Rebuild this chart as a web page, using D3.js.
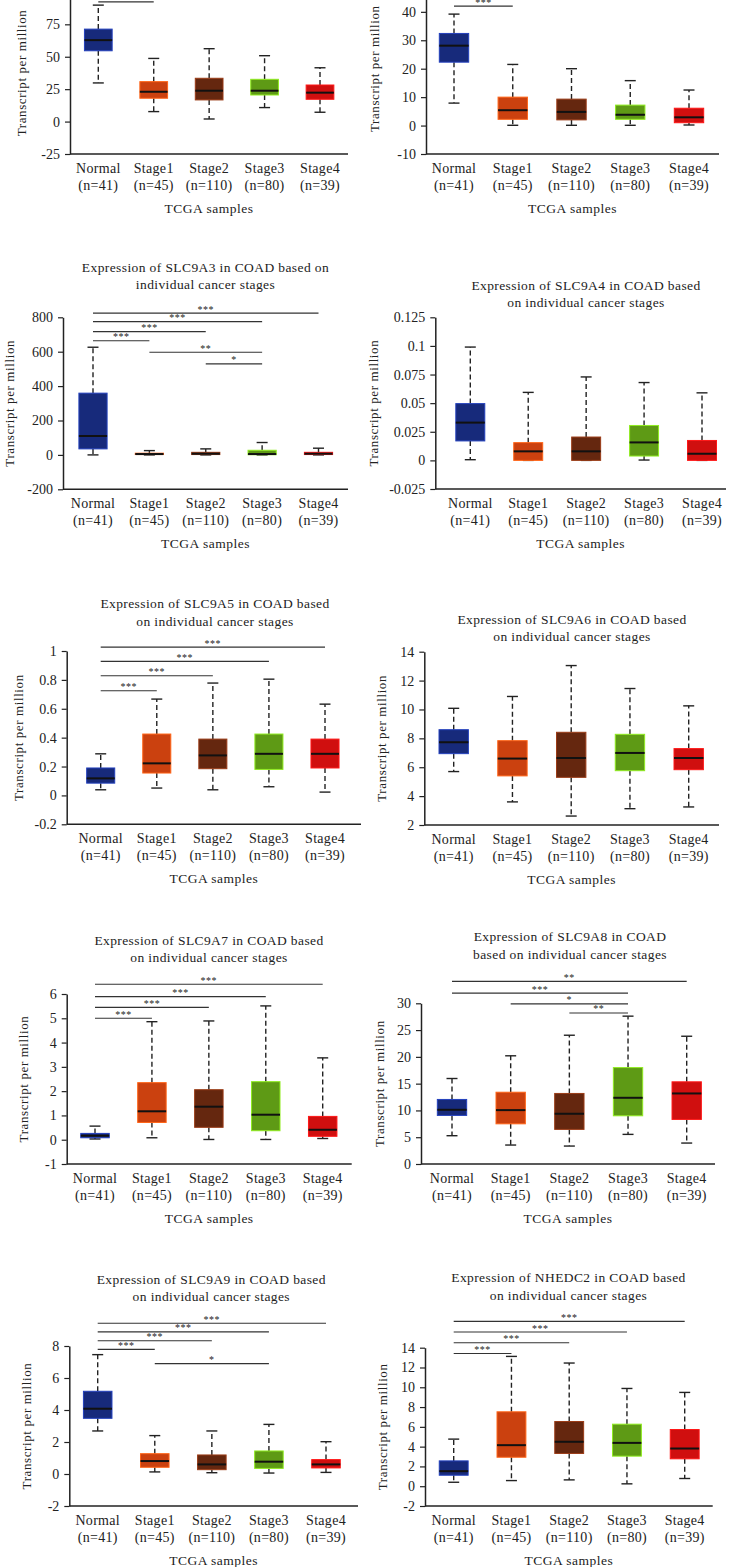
<!DOCTYPE html>
<html>
<head>
<meta charset="utf-8">
<script src="https://cdn.jsdelivr.net/npm/d3@7"></script>
<style>
  body { margin: 0; background: #fff; }
  svg text { font-family: "Liberation Serif", "Times New Roman", serif; fill: #222; }
</style>
</head>
<body>
<svg id="chart" width="731" height="1567"></svg>
<script>
// groups on the x axis
const categories = ["Normal", "Stage1", "Stage2", "Stage3", "Stage4"];
const sampleSizes = ["(n=41)", "(n=45)", "(n=110)", "(n=80)", "(n=39)"];
const groupColors = ["#172a7b", "#cb410f", "#65270f", "#5e9a15", "#d00f0f"];

// panel titles (two lines each); the first two panels have theirs cropped away
const titleLines = [
    [],
    [],
    ["Expression of SLC9A3 in COAD based on", "individual cancer stages"],
    ["Expression of SLC9A4 in COAD based", "on individual cancer stages"],
    ["Expression of SLC9A5 in COAD based", "on individual cancer stages"],
    ["Expression of SLC9A6 in COAD based", "on individual cancer stages"],
    ["Expression of SLC9A7 in COAD based", "on individual cancer stages"],
    ["Expression of SLC9A8 in COAD", "based on individual cancer stages"],
    ["Expression of SLC9A9 in COAD based", "on individual cancer stages"],
    ["Expression of NHEDC2 in COAD based", "on individual cancer stages"]
];

// box stats per group: [min, q1, median, q3, max]
const slc9a1Box = [[29.8, 54.6, 62.8, 71.3, 89.8], [7.7, 18, 23, 30.8, 48.7], [2, 16.7, 23.8, 33.4, 56.2], [10.8, 20.5, 23.8, 32.6, 50.8], [7.2, 17.2, 22.3, 28.2, 41.5]];
const slc9a2Box = [[7.9, 22.3, 28.1, 32.4, 39.2], [0.1, 2.2, 5.4, 10, 21.5], [0.1, 2, 4.8, 9.3, 20], [0.1, 2.2, 3.8, 7.2, 15.8], [0.2, 1, 2.9, 6.1, 12.5]];
const slc9a3Box = [[0, 35, 110, 359, 626], [0, 2, 5, 10, 25], [0, 2, 7, 15, 35], [0, 1, 5, 27, 72], [0, 2, 7, 15, 39]];
const slc9a4Box = [[0.0006, 0.017, 0.033, 0.0496, 0.099], [0, 0, 0.0079, 0.0155, 0.0594], [0, 0, 0.0079, 0.0204, 0.0729], [0.0003, 0.0038, 0.0157, 0.0305, 0.068], [0, 0, 0.0058, 0.0174, 0.059]];
const slc9a5Box = [[0.039, 0.085, 0.118, 0.19, 0.288], [0.051, 0.155, 0.222, 0.425, 0.667], [0.039, 0.185, 0.277, 0.39, 0.778], [0.06, 0.18, 0.288, 0.425, 0.805], [0.023, 0.19, 0.288, 0.39, 0.632]];
const slc9a6Box = [[5.7, 6.94, 7.73, 8.6, 10.08], [3.6, 5.4, 6.6, 7.84, 10.9], [2.62, 5.3, 6.64, 8.42, 13.04], [3.13, 5.76, 6.99, 8.28, 11.45], [3.25, 5.83, 6.64, 7.29, 10.25]];
const slc9a7Box = [[0.03, 0.08, 0.165, 0.26, 0.56], [0.08, 0.71, 1.17, 2.35, 4.86], [0.01, 0.51, 1.36, 2.06, 4.89], [0.01, 0.37, 1.03, 2.39, 5.51], [0.05, 0.14, 0.41, 0.96, 3.37]];
const slc9a8Box = [[5.28, 9.07, 10.12, 12.05, 15.96], [3.54, 7.5, 10.06, 13.4, 20.2], [3.35, 6.46, 9.38, 13.17, 24.04], [5.53, 9.0, 12.36, 18.0, 27.6], [3.91, 8.32, 13.17, 15.34, 23.85]];
const slc9a9Box = [[2.69, 3.48, 4.08, 5.17, 7.46], [0.13, 0.42, 0.81, 1.27, 2.4], [0.08, 0.27, 0.6, 1.19, 2.69], [0.06, 0.35, 0.77, 1.44, 3.1], [0.1, 0.38, 0.6, 0.9, 2.02]];
const nhedc2Box = [[0.4, 1.11, 1.52, 2.56, 4.76], [0.57, 2.93, 4.15, 7.52, 13.12], [0.64, 3.31, 4.49, 6.54, 12.45], [0.24, 3.04, 4.38, 6.27, 9.88], [0.78, 2.77, 3.81, 5.73, 9.48]];

// y axis extents and tick values
const slc9a1Domain = [-25, 100], slc9a1Ticks = [-25, 0, 25, 50, 75];
const slc9a2Domain = [-10, 50], slc9a2Ticks = [-10, 0, 10, 20, 30, 40];
const slc9a3Domain = [-200, 800], slc9a3Ticks = [-200, 0, 200, 400, 600, 800];
const slc9a4Domain = [-0.025, 0.125], slc9a4Ticks = [-0.025, 0, 0.025, 0.05, 0.075, 0.1, 0.125];
const slc9a5Domain = [-0.2, 1], slc9a5Ticks = [-0.2, 0, 0.2, 0.4, 0.6, 0.8, 1];
const slc9a6Domain = [2, 14], slc9a6Ticks = [2, 4, 6, 8, 10, 12, 14];
const slc9a7Domain = [-1, 6], slc9a7Ticks = [-1, 0, 1, 2, 3, 4, 5, 6];
const slc9a8Domain = [0, 30], slc9a8Ticks = [0, 5, 10, 15, 20, 25, 30];
const slc9a9Domain = [-2, 8], slc9a9Ticks = [-2, 0, 2, 4, 6, 8];
const nhedc2Domain = [-2, 14], nhedc2Ticks = [-2, 0, 2, 4, 6, 8, 10, 12, 14];

// significance brackets: [from, to, level, stars]
const slc9a1Sig = [["Normal", "Stage1", 92.3, "***"]];
const slc9a2Sig = [["Normal", "Stage1", 42, "***"]];
const slc9a3Sig = [["Normal", "Stage4", 824, "***"], ["Normal", "Stage3", 775, "***"], ["Normal", "Stage2", 717, "***"], ["Normal", "Stage1", 664, "***"], ["Stage1", "Stage3", 597, "**"], ["Stage2", "Stage3", 529, "*"]];
const slc9a4Sig = [];
const slc9a5Sig = [["Normal", "Stage4", 1.027, "***"], ["Normal", "Stage3", 0.928, "***"], ["Normal", "Stage2", 0.829, "***"], ["Normal", "Stage1", 0.725, "***"]];
const slc9a6Sig = [];
const slc9a7Sig = [["Normal", "Stage4", 6.4, "***"], ["Normal", "Stage3", 5.89, "***"], ["Normal", "Stage2", 5.45, "***"], ["Normal", "Stage1", 5.0, "***"]];
const slc9a8Sig = [["Normal", "Stage4", 34.1, "**"], ["Normal", "Stage3", 31.9, "***"], ["Stage1", "Stage3", 29.9, "*"], ["Stage2", "Stage3", 28.2, "**"]];
const slc9a9Sig = [["Normal", "Stage4", 9.42, "***"], ["Normal", "Stage3", 8.88, "***"], ["Normal", "Stage2", 8.33, "***"], ["Normal", "Stage1", 7.79, "***"], ["Stage1", "Stage3", 6.9, "*"]];
const nhedc2Sig = [["Normal", "Stage4", 16.66, "***"], ["Normal", "Stage3", 15.58, "***"], ["Normal", "Stage2", 14.5, "***"], ["Normal", "Stage1", 13.42, "***"]];

const boxData = [slc9a1Box, slc9a2Box, slc9a3Box, slc9a4Box, slc9a5Box, slc9a6Box, slc9a7Box, slc9a8Box, slc9a9Box, nhedc2Box];
const domainData = [slc9a1Domain, slc9a2Domain, slc9a3Domain, slc9a4Domain, slc9a5Domain, slc9a6Domain, slc9a7Domain, slc9a8Domain, slc9a9Domain, nhedc2Domain];
const tickData = [slc9a1Ticks, slc9a2Ticks, slc9a3Ticks, slc9a4Ticks, slc9a5Ticks, slc9a6Ticks, slc9a7Ticks, slc9a8Ticks, slc9a9Ticks, nhedc2Ticks];
const sigData = [slc9a1Sig, slc9a2Sig, slc9a3Sig, slc9a4Sig, slc9a5Sig, slc9a6Sig, slc9a7Sig, slc9a8Sig, slc9a9Sig, nhedc2Sig];

// where each panel sits on the page (axis x, axis ends, first/last box centre)
const layout = [
    { left: 70, right: 348, bottom: 154, top: -8.1, c0: 98.3, c4: 320, titleX: 209, titleY: 0, ylabX: 21 },
    { left: 426, right: 719, bottom: 154, top: -16.6, c0: 454, c4: 689, titleX: 572, titleY: 0, ylabX: 374 },
    { left: 63, right: 348, bottom: 489.3, top: 317.3, c0: 93, c4: 318.5, titleX: 205.5, titleY: 267, ylabX: 9 },
    { left: 435.3, right: 726, bottom: 489, top: 317.3, c0: 470.3, c4: 702, titleX: 586, titleY: 285, ylabX: 373 },
    { left: 66.7, right: 361, bottom: 824.3, top: 651, c0: 100.7, c4: 325, titleX: 215, titleY: 603.3, ylabX: 18.5 },
    { left: 424.3, right: 719, bottom: 825, top: 651.7, c0: 453.7, c4: 688.7, titleX: 572, titleY: 619, ylabX: 381 },
    { left: 66.7, right: 351.7, bottom: 1164, top: 994, c0: 95, c4: 322.7, titleX: 209, titleY: 940, ylabX: 23.5 },
    { left: 421, right: 715, bottom: 1164, top: 1003.3, c0: 452, c4: 686.7, titleX: 570, titleY: 936.7, ylabX: 379.5 },
    { left: 69.3, right: 358, bottom: 1506, top: 1346, c0: 97.7, c4: 326, titleX: 211.3, titleY: 1279, ylabX: 26 },
    { left: 425, right: 712.7, bottom: 1506, top: 1347.7, c0: 453.7, c4: 684.7, titleX: 568.5, titleY: 1277.3, ylabX: 382 }
];

const svg = d3.select("#chart");

function drawPanel(i) {
    const L = layout[i];
    const ticks = tickData[i];
    const g = svg.append("g");

    const y = d3.scaleLinear()
        .domain(domainData[i])
        .range([L.bottom, L.top]);

    const step = (L.c4 - L.c0) / 4;
    const x = d3.scaleBand()
        .domain(categories)
        .range([L.c0 - step / 2, L.c4 + step / 2])
        .paddingInner(0.5)
        .paddingOuter(0.25);
    const bw = x.bandwidth();
    const cx = c => x(c) + bw / 2;

    // title
    g.append("g").selectAll("text")
        .data(titleLines[i])
        .join("text")
        .attr("x", L.titleX)
        .attr("y", (d, j) => L.titleY + j * 17.7)
        .attr("dy", "0.35em")
        .attr("text-anchor", "middle")
        .style("font-size", "13.5px")
        .style("letter-spacing", "0.4px")
        .text(d => d);

    // y axis
    const yAxis = g.append("g")
        .attr("transform", `translate(${L.left},0)`)
        .call(d3.axisLeft(y).tickValues(ticks).tickFormat(d => String(d))
            .tickSize(5).tickSizeOuter(0).tickPadding(5));
    yAxis.select(".domain").attr("stroke", "#222").attr("stroke-width", 1.5);
    yAxis.selectAll(".tick line").attr("stroke", "#222").attr("stroke-width", 1.2);
    yAxis.selectAll(".tick text")
        .attr("fill", "#222")
        .style("font-size", "14px")
        .style("font-family", "'Liberation Serif', serif");

    // x axis baseline
    g.append("line")
        .attr("x1", L.left).attr("x2", L.right)
        .attr("y1", L.bottom).attr("y2", L.bottom)
        .attr("stroke", "#222").attr("stroke-width", 1.5);

    // x labels
    const xl = g.append("g").selectAll("g")
        .data(categories)
        .join("g")
        .attr("transform", d => `translate(${cx(d)},${L.bottom})`);
    xl.append("text")
        .attr("y", 14).attr("dy", "0.35em")
        .attr("text-anchor", "middle")
        .style("font-size", "14px").style("letter-spacing", "0.3px")
        .text(d => d);
    xl.append("text")
        .attr("y", 31).attr("dy", "0.35em")
        .attr("text-anchor", "middle")
        .style("font-size", "14px").style("letter-spacing", "0.3px")
        .text((d, j) => sampleSizes[j]);

    g.append("text")
        .attr("x", (L.left + L.right) / 2)
        .attr("y", L.bottom + 54).attr("dy", "0.35em")
        .attr("text-anchor", "middle")
        .style("font-size", "13.5px").style("letter-spacing", "0.5px")
        .text("TCGA samples");

    // y label
    g.append("text")
        .attr("transform", `translate(${L.ylabX},${(L.top + L.bottom) / 2}) rotate(-90)`)
        .attr("dy", "0.35em")
        .attr("text-anchor", "middle")
        .style("font-size", "13px").style("letter-spacing", "0.6px")
        .text("Transcript per million");

    // boxes
    const rows = categories.map((c, j) => ({ cat: c, s: boxData[i][j], color: groupColors[j] }));
    const bx = g.append("g").selectAll("g")
        .data(rows)
        .join("g");

    bx.append("line")
        .attr("x1", d => cx(d.cat)).attr("x2", d => cx(d.cat))
        .attr("y1", d => y(d.s[3])).attr("y2", d => y(d.s[4]))
        .attr("stroke", "#222").attr("stroke-width", 1.4).attr("stroke-dasharray", "5,3");
    bx.append("line")
        .attr("x1", d => cx(d.cat)).attr("x2", d => cx(d.cat))
        .attr("y1", d => y(d.s[1])).attr("y2", d => y(d.s[0]))
        .attr("stroke", "#222").attr("stroke-width", 1.4).attr("stroke-dasharray", "5,3");
    bx.append("line")
        .attr("x1", d => cx(d.cat) - 5.5).attr("x2", d => cx(d.cat) + 5.5)
        .attr("y1", d => y(d.s[4])).attr("y2", d => y(d.s[4]))
        .attr("stroke", "#222").attr("stroke-width", 1.4);
    bx.append("line")
        .attr("x1", d => cx(d.cat) - 5.5).attr("x2", d => cx(d.cat) + 5.5)
        .attr("y1", d => y(d.s[0])).attr("y2", d => y(d.s[0]))
        .attr("stroke", "#222").attr("stroke-width", 1.4);
    bx.append("rect")
        .attr("x", d => x(d.cat))
        .attr("width", bw)
        .attr("y", d => y(d.s[3]))
        .attr("height", d => Math.max(1, y(d.s[1]) - y(d.s[3])))
        .attr("fill", d => d.color)
        .attr("stroke", d => d3.color(d.color).brighter(1.2))
        .attr("stroke-width", 1);
    bx.append("line")
        .attr("x1", d => x(d.cat)).attr("x2", d => x(d.cat) + bw)
        .attr("y1", d => y(d.s[2])).attr("y2", d => y(d.s[2]))
        .attr("stroke", "#111").attr("stroke-width", 2);

    // significance brackets
    const sg = g.append("g").selectAll("g")
        .data(sigData[i])
        .join("g");
    sg.append("line")
        .attr("x1", d => cx(d[0])).attr("x2", d => cx(d[1]))
        .attr("y1", d => y(d[2])).attr("y2", d => y(d[2]))
        .attr("stroke", "#333").attr("stroke-width", 1.1);
    sg.append("text")
        .attr("x", d => (cx(d[0]) + cx(d[1])) / 2)
        .attr("y", d => y(d[2]) - 0.5)
        .attr("text-anchor", "middle")
        .style("font-size", "10px")
        .style("letter-spacing", "0.5px")
        .attr("fill", "#444")
        .text(d => d[3]);
}

layout.forEach((L, i) => drawPanel(i));
</script>
</body>
</html>
